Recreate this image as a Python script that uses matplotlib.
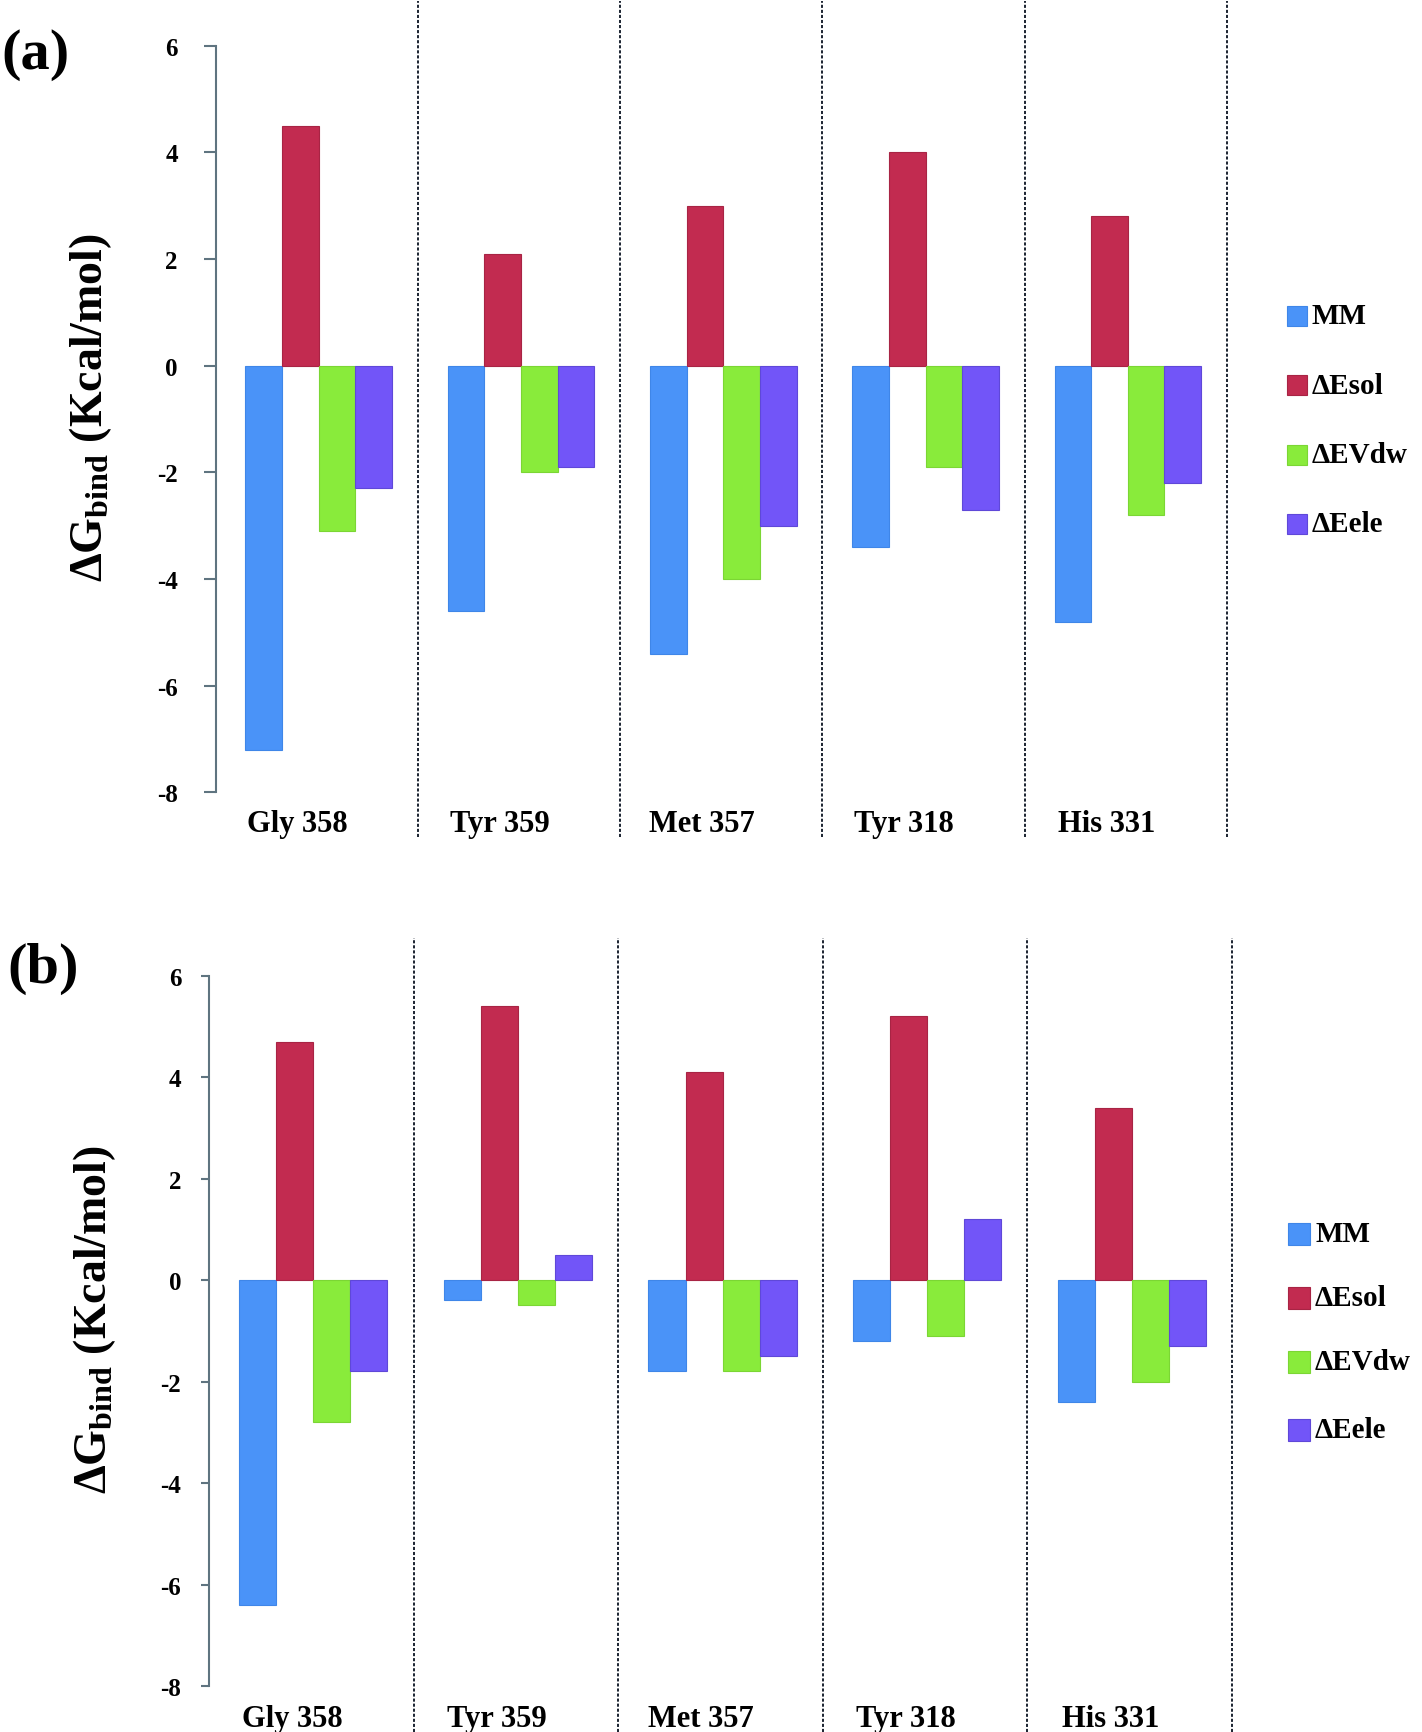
import matplotlib
matplotlib.use("Agg")
import matplotlib.pyplot as plt
from matplotlib.patches import Rectangle
import numpy as np

plt.rcParams['font.family'] = ['Liberation Serif', 'DejaVu Serif']
plt.rcParams['font.weight'] = 'bold'
plt.rcParams['axes.unicode_minus'] = False
plt.rcParams['mathtext.fontset'] = 'custom'
plt.rcParams['mathtext.rm'] = 'Liberation Serif:bold'
plt.rcParams['mathtext.it'] = 'Liberation Serif:bold'
plt.rcParams['mathtext.bf'] = 'Liberation Serif:bold'

residues = ["Gly 358", "Tyr 359", "Met 357", "Tyr 318", "His 331"]
series = ["MM", "ΔEsol", "ΔEVdw", "ΔEele"]
colors = ["#4A93F8", "#C22B50", "#89EB3B", "#7255F8"]
edges = ["#3F86E8", "#A82444", "#7BD634", "#5F48D8"]

# panel (a)
mm_a = [-7.2, -4.6, -5.4, -3.4, -4.8]
esol_a = [4.5, 2.1, 3.0, 4.0, 2.8]
vdw_a = [-3.1, -2.0, -4.0, -1.9, -2.8]
ele_a = [-2.3, -1.9, -3.0, -2.7, -2.2]

# panel (b)
mm_b = [-6.4, -0.4, -1.8, -1.2, -2.4]
esol_b = [4.7, 5.4, 4.1, 5.2, 3.4]
vdw_b = [-2.8, -0.5, -1.8, -1.1, -2.0]
ele_b = [-1.8, 0.5, -1.5, 1.2, -1.3]

yticks = [-8, -6, -4, -2, 0, 2, 4, 6]

W, H = 1422, 1733
fig = plt.figure(figsize=(W / 100, H / 100), dpi=100)


def fx(px):
    return px / W


def fy(py):
    return 1 - py / H


def panel(rect, data, ylab_xy, plabel, plabel_xy, legend_rows, legend_x,
          patch_w, tick_len, tick_pad, tick_fs, ymin_ext, ymax_ext, xlab_pad):
    ax = fig.add_axes(rect)
    n = len(residues)
    bw = 0.181
    centers = np.arange(n) + 0.5 + 0.01
    for k, vals in enumerate(data):
        xs = centers + (k - 1.5) * bw
        ax.bar(xs, vals, width=bw, color=colors[k], edgecolor=edges[k],
               linewidth=0.8, zorder=2)
    ax.set_xlim(0, n)
    ax.set_ylim(-8, 6)
    for s in ["top", "right", "bottom"]:
        ax.spines[s].set_visible(False)
    ax.spines["left"].set_color("#5F7480")
    ax.spines["left"].set_linewidth(1.5)
    ax.set_yticks(yticks)
    ax.set_yticklabels([str(t) for t in yticks], fontsize=tick_fs,
                       fontweight='bold')
    ax.tick_params(axis='y', direction='out', length=tick_len, width=1.5,
                   color="#5F7480", pad=tick_pad)
    ax.set_xticks(np.arange(n) + 0.5 - 0.095)
    ax.set_xticklabels(residues, fontsize=22, fontweight='bold')
    ax.tick_params(axis='x', length=0, pad=xlab_pad)
    for i in range(1, n + 1):
        ax.axvline(i, ymin=ymin_ext, ymax=ymax_ext, color="#1A2230",
                   linewidth=1.4, linestyle=(0, (1.6, 1.0)), clip_on=False,
                   zorder=1)
    fig.text(fx(ylab_xy[0]), fy(ylab_xy[1]),
             "ΔG$_{\\mathrm{bind}}$ (Kcal/mol)", rotation=90,
             ha='center', va='center', fontsize=33, fontweight='bold')
    fig.text(fx(plabel_xy[0]), fy(plabel_xy[1]), plabel, ha='center',
             va='center', fontsize=42, fontweight='bold')
    for k, ry in enumerate(legend_rows):
        fig.add_artist(Rectangle((fx(legend_x), fy(ry + patch_w / 2)),
                                 patch_w / W, patch_w / H,
                                 transform=fig.transFigure,
                                 facecolor=colors[k], edgecolor=edges[k],
                                 linewidth=0.8))
        fig.text(fx(legend_x + patch_w + 5), fy(ry), series[k], ha='left',
                 va='center', fontsize=21, fontweight='bold')
    return ax


rect_a = [215.5 / W, 1 - 793.3 / H, (1227 - 215.5) / W, (793.3 - 46.7) / H]
rect_b = [209 / W, 1 - 1687 / H, (1232 - 209) / W, (1687 - 976.7) / H]

panel(rect_a, [mm_a, esol_a, vdw_a, ele_a], (91, 408), "(a)", (36, 55),
      [317, 386, 456, 525], 1287, 20, 8.5, 18.5, 18, -0.06, 1.06, 12)
panel(rect_b, [mm_b, esol_b, vdw_b, ele_b], (95, 1320), "(b)", (43, 969),
      [1235, 1299, 1363, 1431], 1288, 22, 5.5, 14.4, 18, -0.065, 1.053, 13)

fig.savefig("out.png", dpi=100, facecolor="white")
